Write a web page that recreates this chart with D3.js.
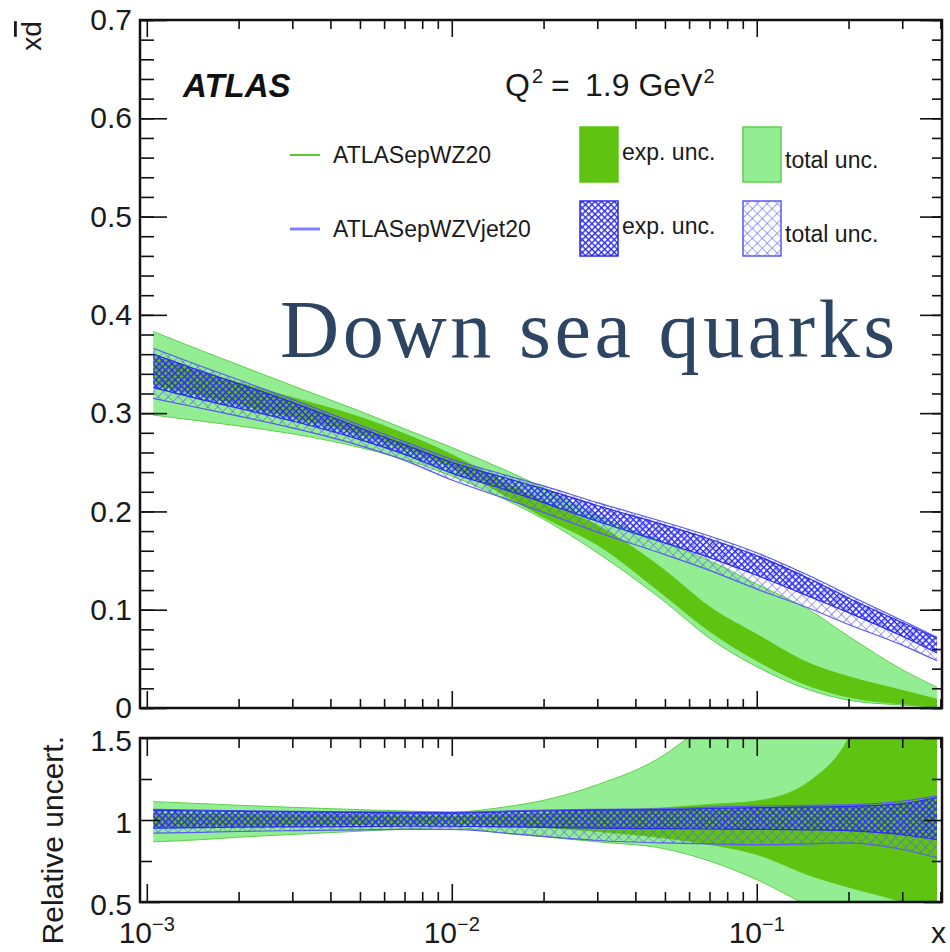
<!DOCTYPE html>
<html>
<head>
<meta charset="utf-8">
<script src="https://cdn.jsdelivr.net/npm/d3@7"></script>
<style>
  body { margin: 0; background: #fff; }
  svg { display: block; font-family: "Liberation Sans", Arial, sans-serif; }
</style>
</head>
<body>
<div id="chart"></div>
<script>
// x grid shared by all bands
const xGrid = [0.00105, 0.0015, 0.002, 0.003, 0.005, 0.007, 0.01, 0.015, 0.02, 0.03, 0.05, 0.07, 0.1, 0.15, 0.2, 0.3, 0.39];

// upper panel, ATLASepWZ20 (green)
const wzTotLo = [0.298, 0.292, 0.287, 0.279, 0.265, 0.253, 0.236, 0.212, 0.192, 0.158, 0.108, 0.071, 0.042, 0.018, 0.008, 0.003, 0.001];
const wzTotHi = [0.383, 0.364, 0.349, 0.328, 0.302, 0.284, 0.265, 0.242, 0.224, 0.196, 0.168, 0.150, 0.126, 0.099, 0.073, 0.039, 0.021];
const wzExpLo = [0.330, 0.318, 0.309, 0.296, 0.279, 0.264, 0.245, 0.216, 0.194, 0.166, 0.114, 0.078, 0.048, 0.022, 0.011, 0.004, 0.001];
const wzExpHi = [0.358, 0.342, 0.331, 0.316, 0.296, 0.279, 0.258, 0.229, 0.210, 0.186, 0.140, 0.103, 0.075, 0.045, 0.032, 0.018, 0.009];

// upper panel, ATLASepWZVjet20 (blue)
const vjTotLo = [0.315, 0.305, 0.297, 0.285, 0.267, 0.252, 0.232, 0.213, 0.199, 0.179, 0.156, 0.140, 0.121, 0.101, 0.085, 0.064, 0.048];
const vjTotHi = [0.366, 0.348, 0.334, 0.314, 0.288, 0.271, 0.253, 0.237, 0.226, 0.209, 0.189, 0.175, 0.158, 0.134, 0.115, 0.089, 0.072];
const vjExpLo = [0.326, 0.314, 0.305, 0.292, 0.273, 0.258, 0.239, 0.222, 0.209, 0.190, 0.168, 0.153, 0.135, 0.113, 0.097, 0.073, 0.056];
const vjExpHi = [0.360, 0.343, 0.330, 0.311, 0.285, 0.268, 0.250, 0.234, 0.223, 0.206, 0.186, 0.172, 0.155, 0.131, 0.112, 0.087, 0.071];

// lower panel, relative uncertainties
const wzRelTotLo = [0.867, 0.880, 0.895, 0.912, 0.932, 0.945, 0.953, 0.918, 0.898, 0.867, 0.824, 0.750, 0.637, 0.470, 0.360, 0.200, 0.100];
const wzRelTotHi = [1.112, 1.100, 1.090, 1.077, 1.063, 1.055, 1.048, 1.080, 1.120, 1.215, 1.400, 1.620, 1.950, 2.500, 3.000, 4.000, 5.000];
const wzRelExpLo = [0.960, 0.964, 0.967, 0.970, 0.973, 0.975, 0.977, 0.968, 0.955, 0.930, 0.890, 0.850, 0.790, 0.660, 0.590, 0.500, 0.420];
const wzRelExpHi = [1.040, 1.036, 1.033, 1.030, 1.027, 1.025, 1.023, 1.030, 1.040, 1.055, 1.075, 1.095, 1.116, 1.240, 1.500, 2.500, 3.500];
const vjRelTotLo = [0.920, 0.925, 0.930, 0.935, 0.940, 0.943, 0.943, 0.920, 0.900, 0.875, 0.860, 0.855, 0.850, 0.855, 0.860, 0.820, 0.770];
const vjRelTotHi = [1.065, 1.060, 1.057, 1.053, 1.050, 1.048, 1.047, 1.055, 1.060, 1.065, 1.070, 1.078, 1.085, 1.090, 1.092, 1.115, 1.147];
const vjRelExpLo = [0.950, 0.953, 0.956, 0.958, 0.960, 0.962, 0.962, 0.958, 0.955, 0.950, 0.947, 0.945, 0.943, 0.940, 0.935, 0.910, 0.880];
const vjRelExpHi = [1.060, 1.055, 1.052, 1.049, 1.046, 1.044, 1.043, 1.050, 1.055, 1.060, 1.063, 1.070, 1.075, 1.080, 1.083, 1.100, 1.137];

// ticks and labels
const yMainTicks = [0, 0.1, 0.2, 0.3, 0.4, 0.5, 0.6, 0.7];
const yRatioTicks = [0.5, 1, 1.5];
const yRatioLabels = ['0.5', '1', '1.5'];
const xMajorTicks = [1e-3, 1e-2, 1e-1];
const xMajorExps = ['\u22123', '\u22122', '\u22121'];
const seriesNames = ['ATLASepWZ20', 'ATLASepWZVjet20'];
const bandNames = ['exp. unc.', 'total unc.'];

const W = 950, H = 952;
const left = 140, right = 942;
const mainTop = 20, mainBottom = 708;
const ratioTop = 738, ratioBottom = 902;

const col = {
    light: '#93ee93', lightEdge: '#5fcf4a', dark: '#5ec411',
    blueExp: '#2a2aee', blueTot: '#5a5af4', text: '#1a1a1a'
};

const svg = d3.select('#chart').append('svg')
    .attr('width', W)
    .attr('height', H);

// Scales
const x = d3.scaleLog().domain([0.00095, 0.405]).range([left, right]);
const yMain = d3.scaleLinear().domain([0, 0.7]).range([mainBottom, mainTop]);
const yRatio = d3.scaleLinear().domain([0.5, 1.5]).range([ratioBottom, ratioTop]);

// Hatch patterns for the blue bands
const defs = svg.append('defs');
const addHatch = (id, size, sw, color) => {
    const p = defs.append('pattern')
        .attr('id', id)
        .attr('patternUnits', 'userSpaceOnUse')
        .attr('width', size)
        .attr('height', size)
        .attr('patternTransform', 'rotate(45)');
    p.append('path')
        .attr('d', `M0,0 L0,${size} M0,0 L${size},0`)
        .attr('stroke', color)
        .attr('stroke-width', sw)
        .attr('fill', 'none');
};
addHatch('hatchExp', 4.5, 2.8, col.blueExp);
addHatch('hatchTot', 7, 1.2, col.blueTot);

defs.append('clipPath').attr('id', 'clipRatio')
    .append('rect')
    .attr('x', left).attr('y', ratioTop)
    .attr('width', right - left).attr('height', ratioBottom - ratioTop);

// Band drawing
const drawBand = (g, yScale, lo, hi, fill, stroke, sw) => {
    const area = d3.area()
        .x(d => x(d))
        .y0((d, i) => yScale(lo[i]))
        .y1((d, i) => yScale(hi[i]))
        .curve(d3.curveMonotoneX);
    g.append('path')
        .datum(xGrid)
        .attr('d', area)
        .attr('fill', fill)
        .attr('stroke', 'none');
    [lo, hi].forEach(arr => {
        g.append('path')
            .datum(xGrid)
            .attr('d', d3.line().x(d => x(d)).y((d, i) => yScale(arr[i])).curve(d3.curveMonotoneX))
            .attr('fill', 'none')
            .attr('stroke', stroke)
            .attr('stroke-width', sw);
    });
};

const gMain = svg.append('g');
drawBand(gMain, yMain, wzTotLo, wzTotHi, col.light, col.lightEdge, 1);
drawBand(gMain, yMain, wzExpLo, wzExpHi, col.dark, col.dark, 0.8);
drawBand(gMain, yMain, vjTotLo, vjTotHi, 'url(#hatchTot)', col.blueTot, 1.2);
drawBand(gMain, yMain, vjExpLo, vjExpHi, 'url(#hatchExp)', col.blueExp, 1.2);

const gRatio = svg.append('g').attr('clip-path', 'url(#clipRatio)');
drawBand(gRatio, yRatio, wzRelTotLo, wzRelTotHi, col.light, col.lightEdge, 1);
drawBand(gRatio, yRatio, wzRelExpLo, wzRelExpHi, col.dark, col.dark, 0.8);
drawBand(gRatio, yRatio, vjRelTotLo, vjRelTotHi, 'url(#hatchTot)', col.blueTot, 1.2);
drawBand(gRatio, yRatio, vjRelExpLo, vjRelExpHi, 'url(#hatchExp)', col.blueExp, 1.2);

// Axes (ROOT style: ticks inside on all four sides)
const xMinor = [];
[1e-3, 1e-2, 1e-1].forEach(dec => {
    for (let k = 2; k <= 9; k++) {
        const v = k * dec;
        if (v < x.domain()[1]) xMinor.push(v);
    }
});

const styleAxis = g => {
    g.select('.domain').remove();
    g.selectAll('line').attr('stroke', '#111').attr('stroke-width', 1.6);
    g.selectAll('text').attr('fill', col.text).style('font-size', '30px');
};

const xTicks = (yPos, orientTop, majorLen, minorLen) => {
    const mk = orientTop ? d3.axisTop : d3.axisBottom;
    [[xMajorTicks, majorLen], [xMinor, minorLen]].forEach(([vals, len]) => {
        svg.append('g')
            .attr('transform', `translate(0,${yPos})`)
            .call(mk(x).tickValues(vals).tickSize(-len).tickFormat(''))
            .call(styleAxis);
    });
};
xTicks(mainTop, true, 17, 9);
xTicks(mainBottom, false, 17, 9);
xTicks(ratioTop, true, 18, 10);
xTicks(ratioBottom, false, 18, 10);

// main y axis
svg.append('g')
    .attr('transform', `translate(${left},0)`)
    .call(d3.axisLeft(yMain).tickValues(yMainTicks).tickSize(-27).tickPadding(8).tickFormat(d3.format('')))
    .call(styleAxis);
svg.append('g')
    .attr('transform', `translate(${left},0)`)
    .call(d3.axisLeft(yMain).ticks(35).tickSize(-14).tickFormat(''))
    .call(styleAxis);
svg.append('g')
    .attr('transform', `translate(${right},0)`)
    .call(d3.axisRight(yMain).tickValues(yMainTicks).tickSize(-22).tickFormat(''))
    .call(styleAxis);
svg.append('g')
    .attr('transform', `translate(${right},0)`)
    .call(d3.axisRight(yMain).ticks(35).tickSize(-10).tickFormat(''))
    .call(styleAxis);

// ratio y axis
const ratioAxis = svg.append('g')
    .attr('transform', `translate(${left},0)`)
    .call(d3.axisLeft(yRatio).tickValues(yRatioTicks).tickSize(-20).tickPadding(8).tickFormat((d, i) => yRatioLabels[i]))
    .call(styleAxis);
ratioAxis.selectAll('text').attr('dy', '0.42em');
svg.append('g')
    .attr('transform', `translate(${left},0)`)
    .call(d3.axisLeft(yRatio).tickValues([0.75, 1.25]).tickSize(-12).tickFormat(''))
    .call(styleAxis);
svg.append('g')
    .attr('transform', `translate(${right},0)`)
    .call(d3.axisRight(yRatio).tickValues(yRatioTicks).tickSize(-18).tickFormat(''))
    .call(styleAxis);
svg.append('g')
    .attr('transform', `translate(${right},0)`)
    .call(d3.axisRight(yRatio).tickValues([0.75, 1.25]).tickSize(-10).tickFormat(''))
    .call(styleAxis);

// Frames
[[mainTop, mainBottom], [ratioTop, ratioBottom]].forEach(([t, b]) => {
    svg.append('rect')
        .attr('x', left).attr('y', t)
        .attr('width', right - left).attr('height', b - t)
        .attr('fill', 'none')
        .attr('stroke', '#111')
        .attr('stroke-width', 2.5);
});

// x labels 10^n
xMajorTicks.forEach((v, i) => {
    const t = svg.append('text')
        .attr('x', x(v))
        .attr('y', 943)
        .attr('text-anchor', 'middle')
        .attr('fill', col.text)
        .style('font-size', '30px');
    t.append('tspan').text('10');
    t.append('tspan').attr('dy', -12).style('font-size', '20px').text(xMajorExps[i]);
});
svg.append('text')
    .attr('x', 946).attr('y', 943)
    .attr('text-anchor', 'end')
    .attr('fill', col.text)
    .style('font-size', '30px')
    .text('x');

// y titles
const yTitle = svg.append('text')
    .attr('transform', 'translate(41,36) rotate(-90)')
    .attr('text-anchor', 'middle')
    .attr('fill', col.text)
    .style('font-size', '28px');
yTitle.append('tspan').text('x');
yTitle.append('tspan').style('text-decoration', 'overline').text('d');

svg.append('text')
    .attr('transform', `translate(63,${ratioTop - 2}) rotate(-90)`)
    .attr('text-anchor', 'end')
    .attr('fill', col.text)
    .style('font-size', '30px')
    .text('Relative uncert.');

// ATLAS label and Q2
svg.append('text')
    .attr('x', 183).attr('y', 97)
    .attr('fill', '#111')
    .style('font-size', '33px')
    .style('font-weight', 'bold')
    .style('font-style', 'italic')
    .text('ATLAS');

const q2 = svg.append('text')
    .attr('y', 96)
    .attr('fill', col.text)
    .style('font-size', '32px');
q2.append('tspan').attr('x', 505).text('Q');
q2.append('tspan').attr('dx', 2).attr('dy', -13).style('font-size', '20px').text('2');
q2.append('tspan').attr('x', 551).attr('dy', 13).text('=');
q2.append('tspan').attr('x', 585).text('1.9 GeV');
q2.append('tspan').attr('dx', 1).attr('dy', -13).style('font-size', '20px').text('2');

// Legend
const legRows = [155, 229];
const lineColors = ['#55cc33', '#8080ff'];
legRows.forEach((yy, i) => {
    svg.append('line')
        .attr('x1', 290).attr('x2', 320)
        .attr('y1', yy).attr('y2', yy)
        .attr('stroke', lineColors[i])
        .attr('stroke-width', i === 0 ? 2 : 3);
    svg.append('text')
        .attr('x', 333).attr('y', yy + 8)
        .attr('fill', col.text)
        .style('font-size', '23px')
        .text(seriesNames[i]);
});
const boxFill = [[col.dark, col.light], ['url(#hatchExp)', 'url(#hatchTot)']];
const boxStroke = [[col.dark, col.lightEdge], [col.blueExp, col.blueTot]];
legRows.forEach((yy, i) => {
    [580, 743].forEach((bx, j) => {
        svg.append('rect')
            .attr('x', bx).attr('y', yy - 28)
            .attr('width', 38).attr('height', 55)
            .attr('fill', boxFill[i][j])
            .attr('stroke', boxStroke[i][j])
            .attr('stroke-width', 1.5);
        svg.append('text')
            .attr('x', bx + 42).attr('y', yy + (j === 0 ? 5 : 13))
            .attr('fill', col.text)
            .style('font-size', '23px')
            .text(bandNames[j]);
    });
});

// Overlay title
svg.append('text')
    .attr('x', 280).attr('y', 357)
    .attr('fill', '#2d4462')
    .style('font-family', '"Liberation Serif", "Times New Roman", serif')
    .style('font-size', '82px')
    .style('letter-spacing', '3.6px')
    .text('Down sea quarks');
</script>
</body>
</html>
